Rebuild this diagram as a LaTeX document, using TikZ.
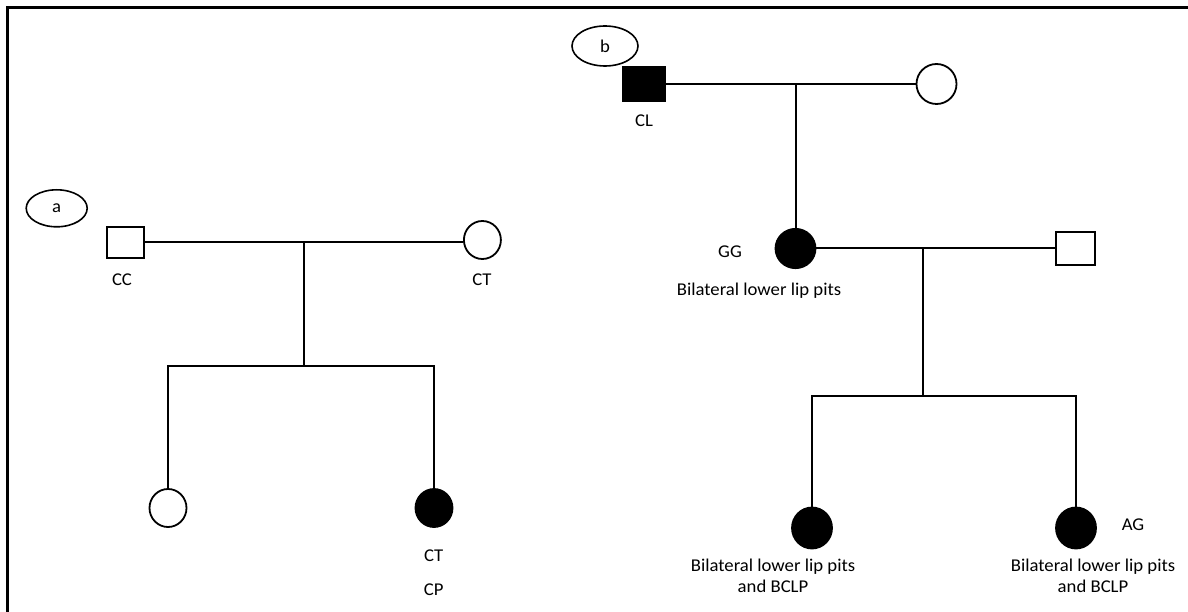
\documentclass[tikz,border=0pt]{standalone}
\usepackage{fontspec}
\setmainfont{Carlito}[FakeStretch=1.04]
\usetikzlibrary{shapes.geometric}
\begin{document}
\begin{tikzpicture}[x=1pt,y=-1pt,
  line width=2pt,
  female/.style={ellipse,draw,line width=1.8pt,inner sep=0pt,minimum width=37pt,minimum height=38pt},
  male/.style={rectangle,draw,line width=1.8pt,inner sep=0pt,minimum width=37pt,minimum height=31pt},
  affected/.style={fill=black},
  tag/.style={ellipse,draw,line width=1.6pt,inner sep=0pt,font=\fontsize{18}{21}\selectfont},
  lbl/.style={anchor=base,inner sep=0pt,font=\fontsize{18}{21.6}\selectfont,align=center}]
\useasboundingbox (0,0) rectangle (1188,612);
% frame
\draw[line width=2.4pt] (7.5,612) -- (7.5,7.5) -- (1188,7.5);

% ---------- family a ----------
\node[tag,minimum width=61pt,minimum height=37pt] (ea) at (56.7,208.3) {a};
\node[male] (cc) at (125.5,242.5) {};
\node[female] (ct) at (482.4,240) {};
\node[female] (c1) at (168,508) {};
\node[female,affected] (c2) at (434,508) {};
\coordinate (ja) at (303.8,242.5);
\coordinate (sa) at (303.8,366);
\coordinate (sl) at (168,366);
\coordinate (sr) at (434,366);
\draw (cc.east) -- (cc.east -| ct.west);
\draw (ja) -- (sa);
\draw (c1.north) -- (sl) -- (sr) -- (c2.north);
\node[lbl] (lcc) at (122,285) {CC};
\node[lbl] (lct) at (482,285) {CT};
\node[lbl] (lc2a) at (433.6,561.7) {CT};
\node[lbl] (lc2b) at (433.6,595) {CP};

% ---------- family b ----------
\node[tag,minimum width=66pt,minimum height=40pt] (eb) at (605,46) {b};
\node[male,affected,minimum width=41.6pt,minimum height=35pt] (cl) at (644,84) {};
\node[female,minimum width=40pt,minimum height=40pt] (gm) at (936.5,84) {};
\node[female,affected,minimum width=40pt,minimum height=39.3pt] (gg) at (795.5,248.5) {};
\node[male,minimum width=39.2pt,minimum height=33.3pt] (hb) at (1075.4,248.5) {};
\node[female,affected,minimum width=40pt,minimum height=41pt] (d1) at (812,528) {};
\node[female,affected,minimum width=40pt,minimum height=41pt] (d2) at (1076,528) {};
\coordinate (jb) at (795.5,84);
\coordinate (jc) at (923.2,248.5);
\coordinate (sc) at (923.2,396);
\coordinate (sbl) at (812,396);
\coordinate (sbr) at (1076,396);
\draw (cl.east) -- (gm.west);
\draw (jb) -- (gg.north);
\draw (gg.east) -- (hb.west);
\draw (jc) -- (sc);
\draw (d1.north) -- (sbl) -- (sbr) -- (d2.north);
\node[lbl] (lcl) at (644,126.7) {CL};
\node[lbl] (lgg) at (730,257.7) {GG};
\node[lbl] (lggd) at (759,295) {Bilateral lower lip pits};
\node[lbl] (lag) at (1133,530) {AG};
\node[lbl,anchor=north] (ld1) at (773,557.5) {Bilateral lower lip pits\\and BCLP};
\node[lbl,anchor=north] (ld2) at (1093,557.5) {Bilateral lower lip pits\\and BCLP};
\end{tikzpicture}
\end{document}
